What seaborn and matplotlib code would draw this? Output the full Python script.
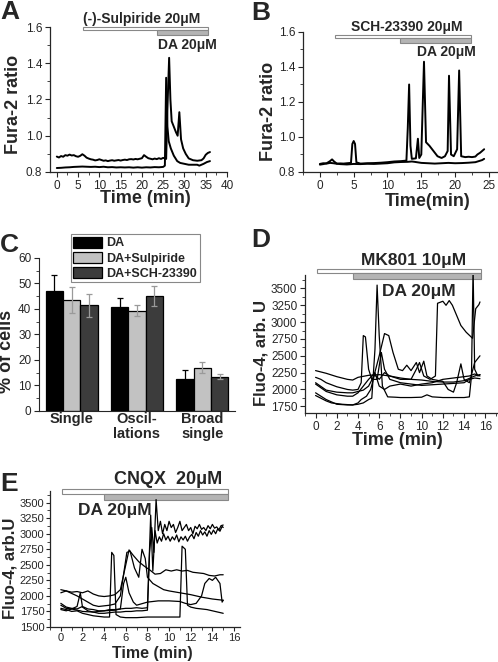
import pandas as pd
import matplotlib
matplotlib.use("Agg")
import matplotlib.pyplot as plt
from matplotlib.patches import Rectangle
from matplotlib.ticker import MultipleLocator
import seaborn as sns

# ---------------- data ----------------
# A: Fura-2 ratio, (-)-sulpiride then DA
a_hi_t = [0, 0.5, 1, 1.5, 2, 2.5, 3, 3.5, 4, 4.5, 5, 5.5, 6, 6.5, 7, 7.5, 8, 8.5, 9, 9.5,
          10, 10.5, 11, 11.5, 12, 12.5, 13, 13.5, 14, 14.5, 15, 15.5, 16, 16.5, 17, 17.5,
          18, 18.5, 19, 19.5, 20, 20.5, 21, 21.5, 22, 22.5, 23, 23.5, 24, 24.5, 25, 25.7,
          26.0, 26.4, 26.7, 27.0, 27.5, 28.0, 28.4, 28.8, 29.2, 29.7, 30.3, 31, 32, 33,
          34, 34.5, 35, 35.5, 36]
a_hi_v = [0.885, 0.880, 0.888, 0.884, 0.893, 0.890, 0.896, 0.891, 0.893, 0.887, 0.884,
          0.889, 0.898, 0.890, 0.879, 0.874, 0.870, 0.868, 0.864, 0.866, 0.870, 0.866,
          0.862, 0.864, 0.860, 0.863, 0.865, 0.862, 0.864, 0.866, 0.863, 0.866, 0.868,
          0.866, 0.870, 0.871, 0.869, 0.872, 0.870, 0.873, 0.876, 0.893, 0.884, 0.876,
          0.873, 0.870, 0.874, 0.871, 0.876, 0.872, 0.878, 0.872, 1.15, 1.43, 1.20,
          1.08, 1.05, 1.02, 1.00, 1.13, 0.98, 0.93, 0.90, 0.875, 0.865, 0.862, 0.865,
          0.875, 0.895, 0.905, 0.91]
a_lo_t = [0, 1, 2, 3, 4, 5, 6, 7, 8, 9, 10, 11, 12, 13, 14, 15, 16, 17, 18, 19, 20, 21,
          22, 23, 24, 25, 25.4, 25.7, 26.0, 26.3, 26.8, 27.5, 28.3, 29, 30, 31, 32, 33,
          33.5, 34.5, 35.3, 36]
a_lo_v = [0.822, 0.823, 0.825, 0.826, 0.828, 0.829, 0.830, 0.829, 0.828, 0.829, 0.827,
          0.829, 0.826, 0.827, 0.825, 0.826, 0.825, 0.826, 0.824, 0.826, 0.824, 0.826,
          0.825, 0.827, 0.826, 0.828, 0.835, 1.32, 1.05, 0.97, 0.93, 0.89, 0.86, 0.85,
          0.845, 0.84, 0.84, 0.84, 0.835, 0.845, 0.855, 0.86]

# B: Fura-2 ratio, SCH-23390 then DA
b_sp_t = [0, 0.5, 1, 1.5, 2, 2.5, 3, 3.5, 4, 4.6, 4.8, 5.0, 5.2, 5.4, 6, 7, 8, 9, 10, 11,
          12, 12.8, 13.0, 13.2, 13.4, 13.6, 14.2, 14.5, 14.7, 15.0, 15.4, 15.7, 16.2,
          16.8, 17.4, 18.0, 18.5, 18.9, 19.1, 19.4, 19.8, 20.3, 20.6, 20.9, 21.5, 22,
          22.5, 23, 23.3, 23.7, 24.0, 24.3]
b_sp_v = [0.846, 0.850, 0.848, 0.852, 0.850, 0.847, 0.849, 0.848, 0.850, 0.852, 0.96,
          0.977, 0.96, 0.855, 0.848, 0.850, 0.851, 0.853, 0.856, 0.860, 0.862, 0.865,
          1.05, 1.30, 0.95, 0.875, 0.878, 0.99, 0.88, 0.90, 1.43, 0.97, 0.95, 0.92,
          0.89, 0.88, 0.89, 0.92, 1.35, 0.90, 0.89, 0.93, 1.38, 0.89, 0.885, 0.887,
          0.885, 0.888, 0.90, 0.91, 0.92, 0.93]
b_fl_t = [0, 0.5, 1, 1.5, 1.8, 2.1, 2.5, 3, 4, 5, 6, 7, 8, 9, 10, 11, 12, 13, 13.6, 14,
          15, 16, 17, 18, 19, 20, 21, 22, 23, 23.5, 24, 24.3]
b_fl_v = [0.842, 0.845, 0.850, 0.862, 0.872, 0.860, 0.848, 0.845, 0.843, 0.846, 0.845,
          0.847, 0.846, 0.848, 0.850, 0.855, 0.857, 0.858, 0.86, 0.858, 0.852, 0.850,
          0.848, 0.850, 0.852, 0.850, 0.851, 0.853, 0.856, 0.862, 0.868, 0.875]

# C: response patterns (% of cells)
patterns = ["Single", "Oscil-\nlations", "Broad\nsingle"]
conditions = ["DA", "DA+Sulpiride", "DA+SCH-23390"]
pct_da = [47.0, 40.8, 12.7]
pct_sulp = [43.5, 39.3, 17.0]
pct_sch = [41.5, 45.0, 13.5]
sem_da = [6.5, 3.7, 3.3]
sem_sulp = [5.2, 2.2, 2.2]
sem_sch = [4.5, 4.0, 1.0]

# D: Fluo-4, MK801 then DA
d1_t = [0, 1, 2, 3, 3.5, 4, 5, 6, 7, 8, 9, 10, 11, 12, 13, 14, 15, 15.5]
d1_v = [2280, 2240, 2190, 2150, 2140, 2180, 2210, 2220, 2200, 2170, 2150, 2140, 2120,
        2110, 2110, 2130, 2200, 2220]
d2_t = [0, 0.5, 1, 1.5, 2, 2.5, 3, 3.5, 4, 4.5, 5, 5.3, 5.6, 5.8, 6.0, 6.3, 6.8, 7.5, 8,
        9, 10, 10.5, 11, 12, 13, 14, 14.5, 14.7, 14.85, 15.0, 15.3, 15.5]
d2_v = [1910, 1870, 1830, 1800, 1790, 1780, 1775, 1770, 1780, 1800, 1850, 1870, 2600,
        3550, 2800, 2050, 1890, 1885, 1880, 1880, 1885, 1920, 1890, 1880, 1880, 1880,
        1890, 2200, 3800, 2300, 2200, 2220]
d3_t = [0, 0.5, 1, 2, 3, 3.5, 4, 4.3, 4.5, 4.7, 5.0, 5.3, 5.8, 6.2, 6.5, 7, 8, 9, 10,
        11, 12, 13, 14, 14.5, 15, 15.5]
d3_v = [2180, 2150, 2100, 2040, 2000, 1990, 2000, 2100, 2800, 2780, 2300, 2150, 2150,
        2550, 2300, 2150, 2100, 2080, 2060, 2070, 2080, 2090, 2100, 2150, 2170, 2160]
d4_t = [0, 1, 2, 3, 3.5, 4, 4.5, 5, 5.5, 6, 6.5, 6.9, 7.3, 7.8, 8.2, 8.6, 9, 9.5, 9.8,
        10.2, 10.5, 11, 12, 12.5, 13, 13.3, 13.7, 14, 14.5, 15, 15.5]
d4_v = [2100, 1990, 1960, 1950, 1950, 1970, 1990, 2050, 2200, 2500, 2830, 2800, 2550,
        2300, 2280, 2360, 2280, 2400, 2250, 2420, 2200, 2150, 2120, 2000, 1960, 2100,
        2380, 2150, 2100, 2400, 2500]
d5_t = [0, 1, 2, 3, 3.5, 4, 4.5, 5, 5.5, 6, 6.5, 7, 8, 9, 9.5, 9.8, 10.2, 10.8, 11.3,
        11.5, 12, 12.3, 12.6, 12.9, 13.3, 13.7, 14.2, 14.6, 14.8, 15.1, 15.4, 15.5]
d5_v = [2080, 1970, 1920, 1900, 1900, 1950, 2050, 2150, 2230, 2150, 2250, 2200, 2150,
        2150, 2300, 2400, 2200, 2150, 2200, 3280, 3310, 3250, 3320, 3250, 3100, 2950,
        2850, 2790, 2760, 3200, 3260, 3300]
d6_t = [0, 1, 2, 3, 3.5, 4, 4.3, 4.8, 5.2, 5.6, 6, 6.5, 7, 8, 9, 10, 11, 12, 13, 14,
        14.5, 15, 15.5]
d6_v = [1950, 1850, 1780, 1770, 1770, 1800, 1850, 1900, 2000, 2250, 2050, 2000, 2050,
        2080, 2050, 2080, 2100, 2150, 2170, 2190, 2200, 2230, 2200]

# E: Fluo-4, CNQX then DA
e1_t = [0, 0.5, 1, 1.5, 2, 2.5, 3, 3.5, 4, 4.5, 5, 5.5, 6.0, 6.3, 6.7, 7.2, 7.7, 8.2,
        8.7, 9.2, 9.7, 10.2, 10.7, 11.2, 11.7, 12.2, 12.7, 13.2, 13.7, 14.2, 14.7, 15]
e1_v = [2100, 2080, 2060, 2070, 2050, 2080, 2030, 2000, 1990, 2000, 2020, 2100, 2500,
        2740, 2650, 2550, 2480, 2420, 2350, 2360, 2420, 2400, 2420, 2400, 2410, 2380,
        2370, 2360, 2330, 2320, 2340, 2340]
e2_t = [0, 0.5, 1, 1.5, 2, 2.5, 3, 3.5, 4, 4.5, 5, 5.5, 6, 6.5, 7, 7.5, 8.0, 8.2, 8.4,
        8.6, 8.8, 9.0, 9.2, 9.4, 9.6, 9.8, 10.0, 10.2, 10.4, 10.6, 10.8, 11.0, 11.2,
        11.4, 11.6, 11.8, 12.0, 12.2, 12.4, 12.6, 12.8, 13.0, 13.2, 13.4, 13.6, 13.8,
        14.0, 14.2, 14.4, 14.6, 14.8, 15.0]
e2_v = [1880, 1820, 1800, 1790, 1830, 1790, 1780, 1760, 1760, 1780, 1780, 1790, 1800,
        1800, 1810, 1800, 1810, 2700, 3100, 2700, 3550, 3050, 3200, 3000, 3150, 3050,
        3200, 3100, 3150, 3020, 3100, 3200, 3050, 3100, 3150, 3050, 3100, 3000, 3120,
        3080, 3150, 3070, 3100, 3050, 3130, 3080, 3150, 3090, 3110, 3060, 3130, 3140]
e3_t = [0, 0.5, 1, 1.5, 1.8, 2.0, 2.5, 3, 3.5, 4, 4.5, 5, 5.5, 6, 6.5, 7, 7.5, 8.0, 8.3,
        8.5, 8.7, 8.9, 9.1, 9.3, 9.5, 9.7, 9.9, 10.1, 10.3, 10.5, 10.7, 10.9, 11.1,
        11.3, 11.5, 11.7, 11.9, 12.1, 12.3, 12.5, 12.7, 12.9, 13.1, 13.3, 13.5, 13.7,
        13.9, 14.1, 14.3, 14.5, 14.7, 14.9, 15.0]
e3_v = [1850, 1800, 1790, 1830, 2050, 1820, 1760, 1740, 1720, 1720, 1730, 1740, 1740,
        1750, 1750, 1760, 1760, 1770, 3300, 2400, 3050, 2850, 2950, 2880, 3000, 2900,
        2960, 2880, 2950, 2900, 2980, 2870, 2950, 2900, 2960, 2880, 2950, 2990, 2920,
        3020, 2960, 3050, 2980, 3030, 2960, 3050, 2990, 3060, 3000, 3080, 3040, 3120,
        3100]
e4_t = [0, 0.5, 1, 1.5, 2, 2.5, 3, 3.5, 4, 4.5, 4.7, 4.9, 5.1, 5.5, 6, 7, 8, 9, 10, 11,
        11.2, 11.5, 11.7, 12, 12.5, 13, 13.5, 14, 14.5, 15]
e4_v = [1800, 1780, 1750, 1760, 1720, 1700, 1680, 1670, 1660, 1660, 2700, 2650, 1700,
        1660, 1650, 1650, 1660, 1660, 1660, 1660, 2800, 2750, 1850, 1820, 1800, 1790,
        1780, 1760, 1740, 1720]
e5_t = [0, 0.5, 1, 1.5, 2, 2.5, 3, 3.5, 4, 4.5, 5, 5.5, 5.8, 6.1, 6.4, 6.8, 7.2, 7.5,
        7.8, 8.0, 8.5, 9, 9.5, 10, 11, 12, 13, 14, 15]
e5_v = [2050, 2080, 2040, 2000, 1950, 1900, 1850, 1830, 1840, 1850, 1870, 2000, 2350,
        2700, 2720, 2450, 2300, 2750, 2600, 2300, 2200, 2150, 2100, 2080, 2050, 2020,
        1980, 1950, 1930]
e6_t = [0, 0.5, 1, 1.5, 1.8, 2, 3, 4, 5, 5.5, 5.8, 6.0, 6.3, 6.7, 7, 8, 9, 10, 11, 11.5,
        12, 12.5, 13, 13.3, 13.7, 14.0, 14.3, 14.7, 14.9, 15.0]
e6_v = [1780, 1760, 1790, 1770, 1760, 1750, 1740, 1760, 1770, 1790, 2200, 2300, 2050,
        1900, 1850, 1900, 1920, 1920, 1910, 1880, 1860, 1880, 2000, 2200, 2280, 2250,
        2300, 2200, 1900, 1930]


def traces(*pairs):
    rows = []
    for i, (t, v) in enumerate(pairs):
        rows.append(pd.DataFrame({"t": t, "v": v, "cell": i}))
    return pd.concat(rows, ignore_index=True)


def draw_traces(ax, df, lw):
    sns.lineplot(data=df, x="t", y="v", units="cell", estimator=None, sort=False,
                 color="black", lw=lw, ax=ax, legend=False)


def drug_bars(ax, white, gray, yw, yg):
    tr = ax.get_xaxis_transform()
    ax.add_patch(Rectangle((white[0], yw[0]), white[1] - white[0], yw[1] - yw[0],
                           transform=tr, fc="white", ec="#888888", lw=0.8, clip_on=False))
    ax.add_patch(Rectangle((gray[0], yg[0]), gray[1] - gray[0], yg[1] - yg[0],
                           transform=tr, fc="#b4b4b4", ec="#888888", lw=0.8, clip_on=False))


def style(ax, xmaj, xmin, ymaj, ymin, pad=2, size=8.5, length=3.5):
    sns.despine(ax=ax)
    ax.xaxis.set_major_locator(MultipleLocator(xmaj))
    ax.xaxis.set_minor_locator(MultipleLocator(xmin))
    ax.yaxis.set_major_locator(MultipleLocator(ymaj))
    ax.yaxis.set_minor_locator(MultipleLocator(ymin))
    ax.tick_params(which="major", length=length, width=0.8, labelsize=size, pad=pad)
    ax.tick_params(which="minor", length=2, width=0.6)
    for s in ax.spines.values():
        s.set_linewidth(0.9)


sns.set_style("ticks")
plt.rcParams["font.family"] = ["Liberation Sans", "DejaVu Sans"]

fig = plt.figure(figsize=(4.98, 6.62), dpi=100)
lab = dict(fontsize=13, fontweight="bold")
ann = dict(fontweight="bold")

# ---- A ----
axA = fig.add_axes([0.1004, 0.7402, 0.3554, 0.2190])
draw_traces(axA, traces((a_hi_t, a_hi_v), (a_lo_t, a_lo_v)), 1.4)
axA.set_xlim(-1.6, 40)
axA.set_ylim(0.8, 1.6)
style(axA, 5, 2.5, 0.2, 0.1)
axA.set_xlabel("Time (min)", **lab)
axA.set_ylabel("Fura-2 ratio", **lab)
axA.xaxis.set_label_coords(0.537, -0.125)
axA.yaxis.set_label_coords(-0.16, 0.466)
drug_bars(axA, (6.2, 35.6), (23.6, 35.6), (0.979, 1.002), (0.947, 0.979))
trA = axA.get_xaxis_transform()
axA.text(19.9, 1.005, "(-)-Sulpiride 20μM", transform=trA, ha="center", va="bottom", fontsize=10, **ann)
axA.text(23.7, 0.876, "DA 20μM", transform=trA, ha="left", va="center", fontsize=10, **ann)

# ---- B ----
axB = fig.add_axes([0.6084, 0.7402, 0.3896, 0.2115])
draw_traces(axB, traces((b_sp_t, b_sp_v), (b_fl_t, b_fl_v)), 1.4)
axB.set_xlim(-2.5, 26.2)
axB.set_ylim(0.8, 1.6)
style(axB, 5, 2.5, 0.2, 0.1)
axB.set_xlabel("Time(min)", **lab)
axB.set_ylabel("Fura-2 ratio", **lab)
axB.xaxis.set_label_coords(0.644, -0.15)
axB.yaxis.set_label_coords(-0.135, 0.43)
drug_bars(axB, (2.2, 22.4), (11.8, 22.4), (0.955, 0.979), (0.924, 0.955))
trB = axB.get_xaxis_transform()
axB.text(12.8, 0.982, "SCH-23390 20μM", transform=trB, ha="center", va="bottom", fontsize=10, **ann)
axB.text(14.3, 0.859, "DA 20μM", transform=trB, ha="left", va="center", fontsize=10, **ann)

# ---- C ----
axC = fig.add_axes([0.0783, 0.3792, 0.3936, 0.2311])
bars = pd.DataFrame({
    "pattern": patterns * 3,
    "cond": [conditions[0]] * 3 + [conditions[1]] * 3 + [conditions[2]] * 3,
    "pct": pct_da + pct_sulp + pct_sch,
})
sns.barplot(data=bars, x="pattern", y="pct", hue="cond", hue_order=conditions,
            palette=["#000000", "#c2c2c2", "#3c3c3c"], edgecolor="black", linewidth=0.9,
            errorbar=None, width=0.8, ax=axC)
for cont, errs, ecol in zip(axC.containers, [sem_da, sem_sulp, sem_sch],
                            ["black", "#9a9a9a", "#9a9a9a"]):
    xs = [b.get_x() + b.get_width() / 2 for b in cont]
    ys = [b.get_height() for b in cont]
    axC.errorbar(xs, ys, yerr=errs, fmt="none", ecolor=ecol, elinewidth=0.9,
                 capsize=2, capthick=0.9)
axC.set_xlim(-0.5, 2.5)
axC.set_ylim(0, 60)
sns.despine(ax=axC)
axC.yaxis.set_major_locator(MultipleLocator(10))
axC.yaxis.set_minor_locator(MultipleLocator(5))
axC.tick_params(axis="y", which="major", length=3.5, width=0.8, labelsize=8.5, pad=2)
axC.tick_params(axis="y", which="minor", length=2, width=0.6)
axC.tick_params(axis="x", length=0, labelsize=10.5, pad=1)
for tl in axC.get_xticklabels():
    tl.set_fontweight("bold")
    tl.set_linespacing(1.1)
axC.set_xlabel("")
axC.set_ylabel("% of cells", **lab)
axC.yaxis.set_label_coords(-0.12, 0.39)
axC.legend(loc="upper left", bbox_to_anchor=(0.163, 1.155), frameon=True, fancybox=False,
           edgecolor="#888888", framealpha=1, prop=dict(weight="bold", size=9),
           handlelength=2.3, handleheight=0.95, handletextpad=0.35, labelspacing=0.2,
           borderpad=0.2, borderaxespad=0)
axC.get_legend().get_frame().set_linewidth(0.8)

# ---- D ----
axD = fig.add_axes([0.6124, 0.3761, 0.3876, 0.2085])
draw_traces(axD, traces((d1_t, d1_v), (d2_t, d2_v), (d3_t, d3_v), (d4_t, d4_v),
                        (d5_t, d5_v), (d6_t, d6_v)), 0.9)
axD.set_xlim(-1, 17.2)
axD.set_ylim(1650, 3700)
style(axD, 2, 1, 250, 125)
axD.set_yticks(range(1750, 3750, 250))
axD.set_xlabel("Time (min)", **lab)
axD.set_ylabel("Fluo-4, arb. U", fontsize=12, fontweight="bold")
axD.xaxis.set_label_coords(0.477, -0.14)
axD.yaxis.set_label_coords(-0.19, 0.435)
drug_bars(axD, (0.16, 15.6), (3.5, 15.6), (1.012, 1.043), (0.971, 1.012))
trD = axD.get_xaxis_transform()
axD.text(9.2, 1.05, "MK801 10μM", transform=trD, ha="center", va="bottom", fontsize=12.5, **ann)
axD.text(6.3, 0.879, "DA 20μM", transform=trD, ha="left", va="center", fontsize=12.5, **ann)

# ---- E ----
axE = fig.add_axes([0.1004, 0.0529, 0.3815, 0.2047])
draw_traces(axE, traces((e1_t, e1_v), (e2_t, e2_v), (e3_t, e3_v), (e4_t, e4_v),
                        (e5_t, e5_v), (e6_t, e6_v)), 0.9)
axE.set_xlim(-1, 16.55)
axE.set_ylim(1500, 3680)
style(axE, 2, 1, 250, 125, pad=1, size=8, length=3)
axE.set_yticks(range(1500, 3750, 250))
axE.set_xlabel("Time (min)", fontsize=11.5, fontweight="bold")
axE.set_ylabel("Fluo-4, arb.U", fontsize=12, fontweight="bold")
axE.xaxis.set_label_coords(0.54, -0.142)
axE.yaxis.set_label_coords(-0.17, 0.43)
drug_bars(axE, (0.12, 15.4), (4.0, 15.4), (0.98, 1.019), (0.94, 0.98))
trE = axE.get_xaxis_transform()
axE.text(9.9, 1.023, "CNQX  20μM", transform=trE, ha="center", va="bottom", fontsize=13, **ann)
axE.text(1.55, 0.86, "DA 20μM", transform=trE, ha="left", va="center", fontsize=12.5, **ann)

# panel letters
for letter, x, y in [("A", 0, 662), ("B", 251, 661), ("C", 0, 429), ("D", 251, 434),
                     ("E", 0, 190)]:
    fig.text(x / 498, y / 662, letter, fontsize=19, fontweight="bold", ha="left", va="top")

fig.savefig("out.png", dpi=100)
